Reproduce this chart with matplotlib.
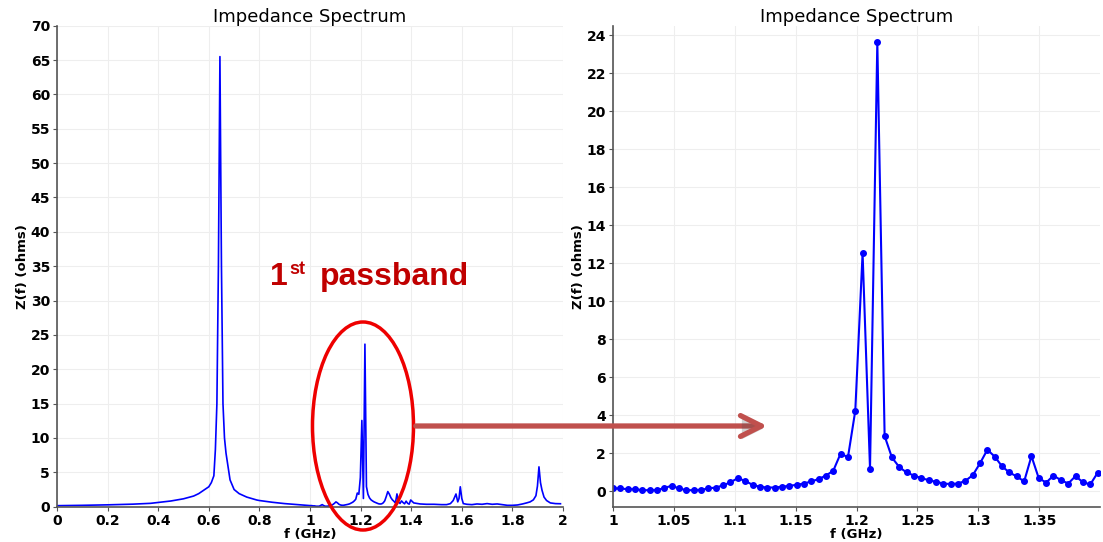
import numpy as np
import matplotlib
matplotlib.use("Agg")
import matplotlib.pyplot as plt
from matplotlib.patches import Ellipse, FancyArrowPatch
import matplotlib.patheffects as pe

# Zoomed sweep, 1.0 - 1.4 GHz (right panel, markers)
f_zoom = [1.0000, 1.0060, 1.0121, 1.0181, 1.0241, 1.0302, 1.0362, 1.0422, 1.0482, 1.0543,
          1.0603, 1.0663, 1.0724, 1.0784, 1.0844, 1.0905, 1.0965, 1.1025, 1.1085, 1.1146,
          1.1206, 1.1266, 1.1327, 1.1387, 1.1447, 1.1508, 1.1568, 1.1628, 1.1688, 1.1749,
          1.1809, 1.1869, 1.1930, 1.1990, 1.2050, 1.2111, 1.2171, 1.2231, 1.2291, 1.2352,
          1.2412, 1.2472, 1.2533, 1.2593, 1.2653, 1.2714, 1.2774, 1.2834, 1.2894, 1.2955,
          1.3015, 1.3075, 1.3136, 1.3196, 1.3256, 1.3317, 1.3377, 1.3437, 1.3497, 1.3558,
          1.3618, 1.3678, 1.3739, 1.3799, 1.3859, 1.3920, 1.3980]
z_zoom = [0.16, 0.16, 0.12, 0.12, 0.07, 0.07, 0.07, 0.19, 0.30, 0.16,
          0.07, 0.07, 0.09, 0.16, 0.21, 0.32, 0.49, 0.70, 0.56, 0.35,
          0.25, 0.21, 0.21, 0.25, 0.30, 0.35, 0.42, 0.53, 0.65, 0.84,
          1.09, 1.99, 1.81, 4.25, 12.55, 1.20, 23.65, 2.92, 1.79, 1.28,
          1.00, 0.84, 0.70, 0.60, 0.51, 0.42, 0.39, 0.42, 0.56, 0.86,
          1.49, 2.20, 1.83, 1.32, 1.00, 0.79, 0.53, 1.86, 0.70, 0.47,
          0.84, 0.60, 0.42, 0.81, 0.49, 0.37, 0.98]

# Full sweep outside the zoom window (left panel)
f_low = [0.0, 0.1, 0.2, 0.3, 0.37, 0.45, 0.50, 0.54, 0.56, 0.58, 0.60, 0.61, 0.62,
         0.626, 0.632, 0.638, 0.644, 0.650, 0.656, 0.662, 0.668, 0.684, 0.70, 0.72,
         0.75, 0.79, 0.80, 0.85, 0.90, 0.95]
z_low = [0.15, 0.2, 0.27, 0.37, 0.49, 0.83, 1.15, 1.55, 1.9, 2.4, 2.9, 3.5, 4.5,
         8.3, 15.0, 35.0, 65.5, 35.0, 15.0, 10.0, 7.8, 3.9, 2.5, 1.9,
         1.4, 0.97, 0.9, 0.65, 0.45, 0.3]
f_high = [1.41, 1.435, 1.46, 1.49, 1.52, 1.54, 1.555, 1.566, 1.572, 1.577, 1.584, 1.589,
          1.594, 1.600, 1.606, 1.62, 1.64, 1.66, 1.68, 1.70, 1.72, 1.74, 1.76, 1.78,
          1.80, 1.82, 1.84, 1.856, 1.87, 1.883, 1.893, 1.899, 1.905, 1.911, 1.917,
          1.925, 1.935, 1.95, 1.97, 1.99]
z_high = [0.55, 0.4, 0.35, 0.35, 0.3, 0.3, 0.45, 0.9, 1.4, 1.85, 0.7, 1.2,
          2.9, 1.2, 0.45, 0.35, 0.3, 0.4, 0.35, 0.45, 0.35, 0.4, 0.3, 0.2,
          0.2, 0.25, 0.4, 0.55, 0.7, 1.0, 1.6, 3.0, 5.8, 3.5, 2.4,
          1.4, 0.9, 0.55, 0.45, 0.43]

f_full = f_low + f_zoom + f_high
z_full = z_low + z_zoom + z_high

W, H = 1103, 542
fig = plt.figure(figsize=(W / 100, H / 100), dpi=100)


def px(x, y):
    return x / W, 1 - y / H


def style_axes(ax):
    for s in ["top", "right"]:
        ax.spines[s].set_visible(False)
    for s in ["left", "bottom"]:
        ax.spines[s].set_color("#555555")
        ax.spines[s].set_linewidth(1.2)
    ax.grid(True, color="#eeeeee", linewidth=0.8)
    ax.set_axisbelow(True)
    ax.tick_params(length=3, color="#555555", pad=2)
    for lab in ax.get_xticklabels() + ax.get_yticklabels():
        lab.set_fontweight("bold")
        lab.set_fontsize(10)
    ax.set_title("Impedance Spectrum", fontsize=13, pad=3)
    ax.set_xlabel("f (GHz)", fontsize=9.5, fontweight="bold", labelpad=0)
    ax.set_ylabel("Z(f) (ohms)", fontsize=9.5, fontweight="bold", labelpad=1)


fmt = matplotlib.ticker.FormatStrFormatter("%g")

ax1 = fig.add_axes([57 / W, 1 - 506.7 / H, (563 - 57) / W, (506.7 - 25.7) / H])
ax1.plot(f_full, z_full, color="#0000ff", linewidth=1.2)
ax1.set_xlim(0, 2)
ax1.set_ylim(0, 70)
ax1.set_xticks(np.arange(0, 2.01, 0.2))
ax1.set_yticks(np.arange(0, 71, 5))
ax1.xaxis.set_major_formatter(fmt)
style_axes(ax1)

ax2 = fig.add_axes([613 / W, 1 - 506.7 / H, (1100 - 613) / W, (506.7 - 26) / H])
ax2.plot(f_zoom, z_zoom, color="#0000ff", linewidth=1.5, marker="o", markersize=4)
ax2.set_xlim(1, 1.4)
ax2.set_ylim(-0.8, 24.5)
ax2.set_xticks([1, 1.05, 1.1, 1.15, 1.2, 1.25, 1.3, 1.35])
ax2.set_yticks(np.arange(0, 25, 2))
ax2.xaxis.set_major_formatter(fmt)
style_axes(ax2)

# annotation: ellipse, arrow, label
ell = Ellipse(px(363, 426), 101 / W, 208 / H, transform=fig.transFigure,
              fill=False, edgecolor="#ee0000", linewidth=2.5)
fig.add_artist(ell)

arrow = FancyArrowPatch(px(413, 426), px(770, 426), transform=fig.transFigure,
                        arrowstyle="->,head_length=15,head_width=7.5",
                        color="#c0504d", linewidth=3.8, capstyle="round",
                        joinstyle="round")
arrow.set_path_effects([pe.SimplePatchShadow(offset=(1, -2), alpha=0.25),
                        pe.Normal()])
fig.add_artist(arrow)

red = "#c00000"
fig.text(*px(270, 285), "1", color=red, fontsize=23, fontweight="bold",
         family="Liberation Sans", va="baseline")
fig.text(*px(289, 274), "st", color=red, fontsize=13, fontweight="bold",
         family="Liberation Sans", va="baseline")
fig.text(*px(320, 285), "passband", color=red, fontsize=23, fontweight="bold",
         family="Liberation Sans", va="baseline")

fig.savefig("out.png", dpi=100)
